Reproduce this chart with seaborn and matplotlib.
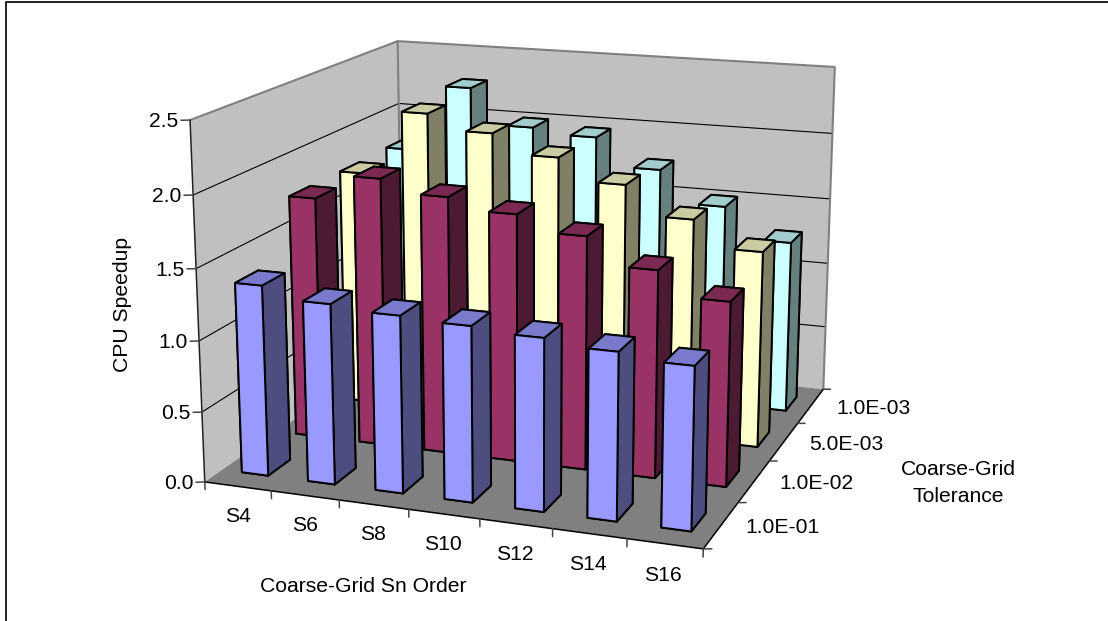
# 3D bar chart of CPU speedup per coarse-grid order and tolerance
import numpy as np
import matplotlib
matplotlib.use('Agg')
import matplotlib.pyplot as plt
from matplotlib.colors import to_rgb
from mpl_toolkits.mplot3d import proj3d
from mpl_toolkits.mplot3d.art3d import Poly3DCollection
import seaborn as sns

sn_order = ['S4', 'S6', 'S8', 'S10', 'S12', 'S14', 'S16']
tolerance = ['1.0E-01', '1.0E-02', '5.0E-03', '1.0E-03']
z_ticks = [0.0, 0.5, 1.0, 1.5, 2.0, 2.5]

speedup_1e01 = [1.35, 1.27, 1.24, 1.22, 1.19, 1.15, 1.11]
speedup_1e02 = [1.76, 1.94, 1.85, 1.77, 1.66, 1.47, 1.30]
speedup_5e03 = [1.76, 2.24, 2.13, 1.99, 1.83, 1.62, 1.43]
speedup_1e03 = [1.77, 2.28, 2.01, 1.97, 1.76, 1.52, 1.29]
series = [speedup_1e01, speedup_1e02, speedup_5e03, speedup_1e03]

sns.set_theme(style='white')
plt.rcParams['font.family'] = ['Liberation Sans', 'DejaVu Sans']
palette = sns.color_palette(['#9999FF', '#993366', '#FFFFCC', '#CCFFFF'])
fs = 15.2

W, H = 1108, 621
fig = plt.figure(figsize=(W / 100, H / 100), dpi=100, facecolor='white')
ax = fig.add_axes([-29.5 / W, 36.3 / H, 1, 1], projection='3d', computed_zorder=False)
nx, ny, zmax = len(sn_order), len(tolerance), z_ticks[-1]
ax.set_xlim(0, nx, view_margin=0)
ax.set_ylim(0, ny, view_margin=0)
ax.set_zlim(0, zmax, view_margin=0)
ax.view_init(elev=14.95, azim=-70.13)
ax.set_proj_type('persp', focal_length=0.659)
ax.set_box_aspect((1, 0.9736, 0.713), zoom=1.212)
ax.set_axis_off()


def label3d(x, y, z, s, **kw):
    # place a flat label at a projected 3D position
    px, py, _ = proj3d.proj_transform(x, y, z, ax.get_proj())
    ax.text2D(px, py, s, transform=ax.transData, fontsize=fs, color='black', va='center', **kw)


# walls and floor
left_wall = [(0, 0, 0), (0, ny, 0), (0, ny, zmax), (0, 0, zmax)]
back_wall = [(0, ny, 0), (nx, ny, 0), (nx, ny, zmax), (0, ny, zmax)]
floor = [(0, 0, 0), (nx, 0, 0), (nx, ny, 0), (0, ny, 0)]
ax.add_collection3d(Poly3DCollection([left_wall, back_wall], facecolor='#C0C0C0', edgecolor='none', zorder=1))
ax.add_collection3d(Poly3DCollection([floor], facecolor='#808080', edgecolor='none', zorder=2))

# gridlines
for z in z_ticks[1:-1]:
    ax.plot([0, 0, nx], [0, ny, ny], [z, z, z], color='black', lw=0.8, zorder=3)
grey = '#808080'
ax.plot([0, 0, nx, nx], [0, ny, ny, ny], [zmax, zmax, zmax, 0], color=grey, lw=1.5, zorder=3)
ax.plot([0, 0], [ny, ny], [0, zmax], color=grey, lw=1.5, zorder=3)

# axis lines and ticks
tick_color = '#444444'
ax.plot([0, 0], [0, 0], [0, zmax], color='#222222', lw=1.1, zorder=4)
ax.plot([0, nx, nx], [0, 0, ny], [0, 0, 0], color='black', lw=1.1, zorder=4)
for z in z_ticks:
    ax.plot([0, -0.107], [0, -0.029], [z, z], color=tick_color, lw=1.1, zorder=4)
    label3d(-0.14, -0.04, z - 0.008, f'{z:.1f}', ha='right')
for i in range(nx + 1):
    ax.plot([i, i], [0, 0], [0, -0.055], color=tick_color, lw=1.1, zorder=4)
for j in range(ny + 1):
    ax.plot([nx, nx + 0.1], [j, j + 0.023], [0, 0], color=tick_color, lw=1.1, zorder=4)
for i, name in enumerate(sn_order):
    label3d(i + 0.485, 0, -0.215, name, ha='center')
for j, name in enumerate(tolerance):
    label3d(nx + 0.76 + 0.05 * j, j + 0.62, 0, name, ha='center')

# bars, drawn from back to front
bar = 0.4
order = 10
for j in range(ny - 1, -1, -1):
    base = np.array(to_rgb(palette[j]))
    faces = [base, base * 0.8, base, base, base * 0.5, base * 0.5]
    for i in range(nx):
        ax.bar3d(i + 0.5 - bar / 2, j + 0.5 - bar / 2, 0, bar, bar, series[j][i], color=faces,
                 shade=False, edgecolor='black', linewidth=1.4, zorder=order)
        order += 1

# the square 3D axes box must not cut the walls
for art in ax.get_children():
    art.set_clip_on(False)

fig.text(122 / W, 1 - 304.5 / H, 'CPU Speedup', rotation=90, ha='center', va='center', fontsize=fs, color='black')
fig.text(363.5 / W, 1 - 586 / H, 'Coarse-Grid Sn Order', ha='center', va='center', fontsize=fs, color='black')
fig.text(958 / W, 1 - 483 / H, 'Coarse-Grid\nTolerance', ha='center', va='center', fontsize=fs, color='black', linespacing=1.53)

# outer frame, open to the right and below
fig.add_artist(plt.Line2D([5.6 / W, 5.6 / W, 1], [0, 1 - 1.7 / H, 1 - 1.7 / H], transform=fig.transFigure,
                          color='#222222', lw=1.4))
fig.savefig('out.png', dpi=100)
